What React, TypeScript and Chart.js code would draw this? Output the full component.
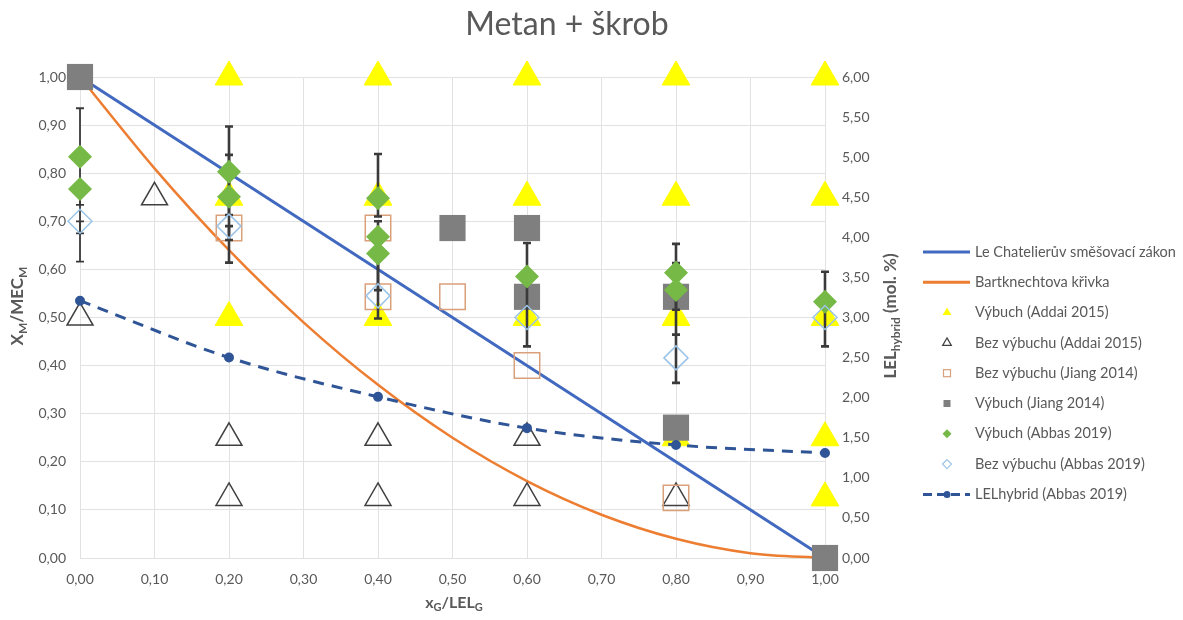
import React, { useEffect, useRef } from 'react';
import { Chart, registerables } from 'chart.js';

Chart.register(...registerables);

// ---------- data ----------
const chatelierX = [0, 1];
const chatelierY = [1, 0];

const bartX = [0, 0.1, 0.2, 0.3, 0.4, 0.5, 0.6, 0.7, 0.8, 0.9, 1.0];
const bartY = [1, 0.81, 0.64, 0.49, 0.36, 0.25, 0.16, 0.09, 0.04, 0.01, 0];

const addaiExpX = [0.2, 0.2, 0.2, 0.4, 0.4, 0.4, 0.6, 0.6, 0.6, 0.8, 0.8, 0.8, 0.8, 1, 1, 1, 1, 1];
const addaiExpY = [1, 0.75, 0.5, 1, 0.75, 0.5, 1, 0.75, 0.5, 1, 0.75, 0.5, 0.25, 1, 0.75, 0.5, 0.25, 0.125];

const addaiNoX = [0, 0.1, 0.2, 0.2, 0.4, 0.4, 0.6, 0.6, 0.8];
const addaiNoY = [0.5, 0.75, 0.25, 0.125, 0.25, 0.125, 0.25, 0.125, 0.125];

const jiangNoX = [0.2, 0.4, 0.4, 0.5, 0.6, 0.8];
const jiangNoY = [0.686, 0.686, 0.543, 0.543, 0.4, 0.125];

const jiangExpX = [0, 0.5, 0.6, 0.6, 0.8, 0.8, 1];
const jiangExpY = [1, 0.686, 0.686, 0.543, 0.543, 0.271, 0];

const abbasExpX = [0, 0, 0.2, 0.2, 0.4, 0.4, 0.4, 0.6, 0.8, 0.8, 1];
const abbasExpY = [0.834, 0.767, 0.803, 0.751, 0.748, 0.668, 0.633, 0.585, 0.593, 0.557, 0.533];
const abbasExpLow = [0.734, 0.675, 0.713, 0.661, 0.71, 0.557, 0.498, 0.44, 0.516, 0.464, 0.44];
const abbasExpHigh = [0.935, 0.767, 0.897, 0.838, 0.84, 0.7, 0.633, 0.655, 0.653, 0.613, 0.595];

const abbasNoX = [0, 0.2, 0.4, 0.6, 0.8, 1];
const abbasNoY = [0.7, 0.69, 0.545, 0.5, 0.416, 0.5];
const abbasNoLow: (number | null)[] = [0.616, 0.614, null, null, 0.364, null];
const abbasNoHigh: (number | null)[] = [0.7, 0.69, null, null, 0.464, null];

const lelX = [0, 0.2, 0.4, 0.6, 0.8, 1];
const lelY = [3.21, 2.5, 2.01, 1.62, 1.41, 1.31];

const seriesNames = [
  'Le Chatelierův směšovací zákon',
  'Bartknechtova křivka',
  'Výbuch (Addai 2015)',
  'Bez výbuchu (Addai 2015)',
  'Bez výbuchu (Jiang 2014)',
  'Výbuch (Jiang 2014)',
  'Výbuch (Abbas 2019)',
  'Bez výbuchu (Abbas 2019)',
  'LELhybrid (Abbas 2019)',
];

const titleText = 'Metan + škrob';

// ---------- helpers ----------
const pts = (xs: number[], ys: number[]) => xs.map((x, i) => ({ x, y: ys[i] }));
const fmt = (v: number) => Number(v).toFixed(2).replace('.', ',');

const FONT = 'Lato, "Open Sans", sans-serif';
const TXT = '#595959';

const C = {
  blue: '#4169C0',
  orange: '#ED7D31',
  yellow: '#FFFF00',
  tri: '#404040',
  jiangNo: '#D9A07A',
  grey: '#7F7F7F',
  green: '#76B947',
  abbasNo: '#9DC3E6',
  lel: '#2F5597',
};

type Part = { t: string; sub?: boolean };

function drawRich(ctx: CanvasRenderingContext2D, parts: Part[], cx: number, cy: number, rot: number, size: number, bold: boolean) {
  const main = `${bold ? 'bold ' : ''}${size}px ${FONT}`;
  const subSize = Math.round(size * 0.68);
  const sub = `${bold ? 'bold ' : ''}${subSize}px ${FONT}`;
  ctx.save();
  ctx.translate(cx, cy);
  ctx.rotate(rot);
  let total = 0;
  const widths = parts.map((p) => {
    ctx.font = p.sub ? sub : main;
    const w = ctx.measureText(p.t).width;
    total += w;
    return w;
  });
  let x = -total / 2;
  ctx.fillStyle = TXT;
  ctx.textBaseline = 'middle';
  ctx.textAlign = 'left';
  parts.forEach((p, i) => {
    ctx.font = p.sub ? sub : main;
    ctx.fillText(p.t, x, p.sub ? size * 0.3 : 0);
    x += widths[i];
  });
  ctx.restore();
}

const customPlugin = {
  id: 'custom',
  beforeDatasetDraw(chart: any, args: any) {
    if (args.index !== 6) return;
    const { ctx, scales } = chart;
    const xs = scales.x;
    const ys = scales.y;
    ctx.save();
    ctx.strokeStyle = '#3a3a3a';
    const bar = (xv: number, lo: number, hi: number) => {
      const px = xs.getPixelForValue(xv);
      const pl = ys.getPixelForValue(lo);
      const ph = ys.getPixelForValue(hi);
      ctx.lineWidth = xv === 0 ? 1.8 : 2.6;
      ctx.beginPath();
      ctx.moveTo(px, pl);
      ctx.lineTo(px, ph);
      ctx.moveTo(px - 4, pl);
      ctx.lineTo(px + 4, pl);
      if (hi !== lo) {
        ctx.moveTo(px - 4, ph);
        ctx.lineTo(px + 4, ph);
      }
      ctx.stroke();
    };
    abbasExpX.forEach((xv, i) => {
      bar(xv, abbasExpLow[i], abbasExpHigh[i]);
    });
    abbasNoX.forEach((xv, i) => {
      const lo = abbasNoLow[i];
      const hi = abbasNoHigh[i];
      if (lo == null || hi == null) return;
      bar(xv, lo, hi);
    });
    ctx.restore();
  },
  afterDraw(chart: any) {
    const { ctx } = chart;
    // title
    ctx.save();
    ctx.font = `32px ${FONT}`;
    ctx.fillStyle = TXT;
    ctx.textAlign = 'center';
    ctx.textBaseline = 'middle';
    ctx.fillText(titleText, 559, 17);
    ctx.restore();

    // axis titles
    drawRich(ctx, [{ t: 'X' }, { t: 'M', sub: true }, { t: '/MEC' }, { t: 'M', sub: true }], 10, 298, -Math.PI / 2, 17, true);
    drawRich(ctx, [{ t: 'x' }, { t: 'G', sub: true }, { t: '/LEL' }, { t: 'G', sub: true }], 446, 595, 0, 16, true);
    drawRich(ctx, [{ t: 'LEL' }, { t: 'hybrid', sub: true }, { t: ' (mol. %)' }], 883, 308, -Math.PI / 2, 17, true);

    // legend
    const x0 = 915;
    const x1 = 962;
    const mx = 939;
    const tx = 967;
    const y0 = 244;
    const dy = 30.3;
    ctx.save();
    seriesNames.forEach((name, i) => {
      const y = y0 + i * dy;
      ctx.save();
      switch (i) {
        case 0:
        case 1:
          ctx.strokeStyle = i === 0 ? C.blue : C.orange;
          ctx.lineWidth = 3;
          ctx.beginPath();
          ctx.moveTo(x0, y);
          ctx.lineTo(x1, y);
          ctx.stroke();
          break;
        case 2:
        case 3: {
          const r = 5;
          ctx.beginPath();
          ctx.moveTo(mx, y - r);
          ctx.lineTo(mx + r * 0.866, y + r / 2);
          ctx.lineTo(mx - r * 0.866, y + r / 2);
          ctx.closePath();
          if (i === 2) {
            ctx.fillStyle = C.yellow;
            ctx.fill();
          } else {
            ctx.strokeStyle = C.tri;
            ctx.lineWidth = 1.2;
            ctx.stroke();
          }
          break;
        }
        case 4:
          ctx.strokeStyle = C.jiangNo;
          ctx.lineWidth = 1.2;
          ctx.strokeRect(mx - 3.5, y - 3.5, 7, 7);
          break;
        case 5:
          ctx.fillStyle = C.grey;
          ctx.fillRect(mx - 3.5, y - 3.5, 7, 7);
          break;
        case 6:
        case 7: {
          const r = 4.5;
          ctx.beginPath();
          ctx.moveTo(mx, y - r);
          ctx.lineTo(mx + r, y);
          ctx.lineTo(mx, y + r);
          ctx.lineTo(mx - r, y);
          ctx.closePath();
          if (i === 6) {
            ctx.fillStyle = C.green;
            ctx.fill();
          } else {
            ctx.strokeStyle = C.abbasNo;
            ctx.lineWidth = 1.2;
            ctx.stroke();
          }
          break;
        }
        case 8:
          ctx.strokeStyle = C.lel;
          ctx.lineWidth = 3;
          ctx.setLineDash([9, 5]);
          ctx.beginPath();
          ctx.moveTo(x0, y);
          ctx.lineTo(x1, y);
          ctx.stroke();
          ctx.setLineDash([]);
          ctx.fillStyle = C.lel;
          ctx.beginPath();
          ctx.arc(mx, y, 3.5, 0, Math.PI * 2);
          ctx.fill();
          break;
      }
      ctx.restore();
      ctx.font = `14.5px ${FONT}`;
      ctx.fillStyle = TXT;
      ctx.textAlign = 'left';
      ctx.textBaseline = 'middle';
      ctx.fillText(name, tx, y);
    });
    ctx.restore();
  },
};

export default function App() {
  const ref = useRef<HTMLCanvasElement | null>(null);

  useEffect(() => {
    if (!ref.current) return;
    const tickFont = { family: FONT, size: 14 };
    const gridColor = '#e2e2e2';
    const chart = new Chart(ref.current, {
      type: 'scatter',
      data: {
        datasets: [
          {
            label: seriesNames[0],
            data: pts(chatelierX, chatelierY),
            showLine: true,
            borderColor: C.blue,
            borderWidth: 3,
            pointRadius: 0,
            order: 9,
          },
          {
            label: seriesNames[1],
            data: pts(bartX, bartY),
            showLine: true,
            borderColor: C.orange,
            borderWidth: 2.5,
            pointRadius: 0,
            cubicInterpolationMode: 'monotone',
            order: 8,
          },
          {
            label: seriesNames[2],
            data: pts(addaiExpX, addaiExpY),
            pointStyle: 'triangle',
            pointRadius: 16,
            backgroundColor: C.yellow,
            borderColor: C.yellow,
            borderWidth: 1,
            order: 7,
          },
          {
            label: seriesNames[3],
            data: pts(addaiNoX, addaiNoY),
            pointStyle: 'triangle',
            pointRadius: 15,
            backgroundColor: 'rgba(255,255,255,0)',
            borderColor: C.tri,
            borderWidth: 1.5,
            order: 6,
          },
          {
            label: seriesNames[4],
            data: pts(jiangNoX, jiangNoY),
            pointStyle: 'rect',
            pointRadius: 18,
            backgroundColor: 'rgba(255,255,255,0)',
            borderColor: C.jiangNo,
            borderWidth: 1.5,
            order: 5,
          },
          {
            label: seriesNames[5],
            data: pts(jiangExpX, jiangExpY),
            pointStyle: 'rect',
            pointRadius: 18.5,
            backgroundColor: C.grey,
            borderColor: C.grey,
            borderWidth: 0,
            order: 4,
          },
          {
            label: seriesNames[6],
            data: pts(abbasExpX, abbasExpY),
            pointStyle: 'rectRot',
            pointRadius: 12,
            backgroundColor: C.green,
            borderColor: C.green,
            borderWidth: 0,
            order: 3,
          },
          {
            label: seriesNames[7],
            data: pts(abbasNoX, abbasNoY),
            pointStyle: 'rectRot',
            pointRadius: 12,
            backgroundColor: 'rgba(255,255,255,0)',
            borderColor: C.abbasNo,
            borderWidth: 1.5,
            order: 2,
          },
          {
            label: seriesNames[8],
            data: pts(lelX, lelY),
            yAxisID: 'y2',
            showLine: true,
            borderColor: C.lel,
            borderWidth: 3,
            borderDash: [11, 8],
            pointRadius: 3.5,
            pointBackgroundColor: C.lel,
            pointBorderColor: C.lel,
            cubicInterpolationMode: 'monotone',
            order: 1,
          },
        ] as any,
      },
      options: {
        animation: false,
        responsive: false,
        maintainAspectRatio: false,
        clip: false as any,
        layout: { padding: { top: 69, right: 290, left: 0, bottom: 0 } },
        plugins: {
          legend: { display: false },
          title: { display: false },
          tooltip: { enabled: false },
        },
        elements: { point: { hoverRadius: 0 } as any },
        scales: {
          x: {
            type: 'linear',
            min: 0,
            max: 1,
            ticks: {
              stepSize: 0.1,
              padding: 13,
              color: TXT,
              font: tickFont,
              callback: (v: any) => fmt(v),
            },
            grid: { color: gridColor, drawTicks: false, lineWidth: 1 },
            border: { display: false },
            afterFit: (s: any) => {
              s.height = 54;
            },
          },
          y: {
            type: 'linear',
            position: 'left',
            min: 0,
            max: 1,
            ticks: {
              stepSize: 0.1,
              padding: 14,
              color: TXT,
              font: tickFont,
              callback: (v: any) => fmt(v),
            },
            grid: { color: gridColor, drawTicks: false, lineWidth: 1 },
            border: { display: false },
            afterFit: (s: any) => {
              s.width = 72;
            },
          },
          y2: {
            type: 'linear',
            position: 'right',
            min: 0,
            max: 6,
            ticks: {
              stepSize: 0.5,
              padding: 17,
              color: TXT,
              font: tickFont,
              callback: (v: any) => fmt(v),
            },
            grid: { drawOnChartArea: false, drawTicks: false },
            border: { display: false },
            afterFit: (s: any) => {
              s.width = 60;
            },
          },
        },
      } as any,
      plugins: [customPlugin as any],
    });
    return () => chart.destroy();
  }, []);

  return (
    <div style={{ width: 1167, height: 604 }}>
      <canvas ref={ref} width={1167} height={604} style={{ display: 'block' }} />
    </div>
  );
}
